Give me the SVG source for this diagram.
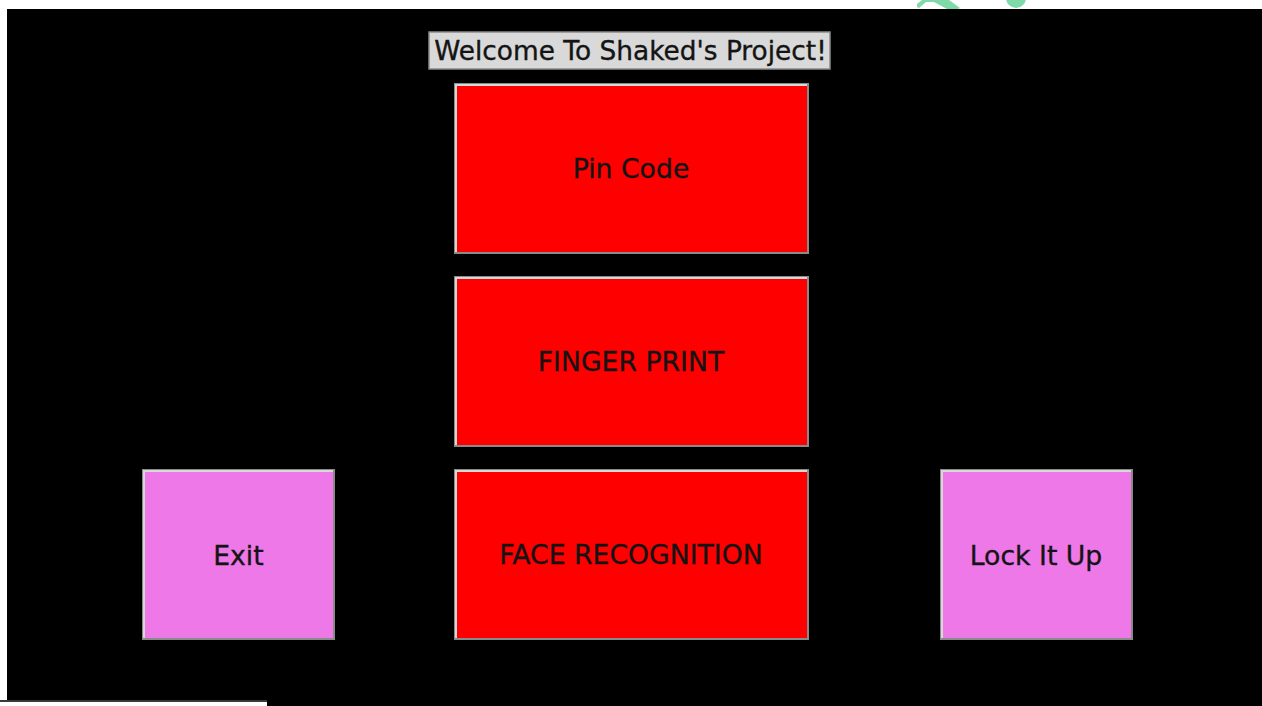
<svg xmlns="http://www.w3.org/2000/svg" width="1262" height="706" viewBox="0 0 1262 706">
<defs>
<style>
.btn-red{fill:#ff0000;stroke:#8a8a8a;stroke-width:2}
.btn-pink{fill:#ee78e8;stroke:#8a8a8a;stroke-width:2}
.hl{fill:none;stroke:#d8d8d8;stroke-width:2}
.lbl{font-family:"DejaVu Sans",sans-serif;font-size:26.7px;fill:#141414;stroke:#141414;stroke-width:0.35;text-anchor:middle}
.ttl{font-size:26.4px}
.wm{fill:#80d9a9}
</style>
</defs>
<rect x="0" y="0" width="1262" height="706" fill="#ffffff"/>
<rect x="7" y="9" width="1255" height="697" fill="#000000"/>
<rect x="0" y="700" width="267" height="2" fill="#3a3a3a"/>
<rect x="0" y="702" width="267" height="4" fill="#ffffff"/>
<g id="watermark">
<polygon class="wm" points="917,7 917,4 922,0 949,0 960,8 958,9 947,9 934,2 926,2 919,8"/>
<circle class="wm" cx="1016" cy="-2" r="10"/>
</g>
<g id="title">
<rect x="429" y="32" width="401" height="37" fill="#d9d9d9" stroke="#8a8a8a" stroke-width="1.5"/>
<text class="lbl ttl" x="630.5" y="60">Welcome To Shaked's Project!</text>
</g>
<g id="pin-code">
<rect class="btn-red" x="455" y="84" width="353" height="169"/>
<polyline class="hl" points="456,252 456,85 807,85"/>
<text class="lbl" x="631" y="178">Pin Code</text>
</g>
<g id="finger-print">
<rect class="btn-red" x="455" y="277" width="353" height="169"/>
<polyline class="hl" points="456,445 456,278 807,278"/>
<text class="lbl" x="631" y="371">FINGER PRINT</text>
</g>
<g id="face-recognition">
<rect class="btn-red" x="455" y="470" width="353" height="169"/>
<polyline class="hl" points="456,638 456,471 807,471"/>
<text class="lbl" x="631" y="564">FACE RECOGNITION</text>
</g>
<g id="exit">
<rect class="btn-pink" x="143" y="470" width="191" height="169"/>
<polyline class="hl" points="144,638 144,471 333,471"/>
<text class="lbl" x="238.5" y="565">Exit</text>
</g>
<g id="lock-it-up">
<rect class="btn-pink" x="941" y="470" width="191" height="169"/>
<polyline class="hl" points="942,638 942,471 1131,471"/>
<text class="lbl" x="1036" y="565">Lock It Up</text>
</g>
<g id="connectors"></g>
</svg>
